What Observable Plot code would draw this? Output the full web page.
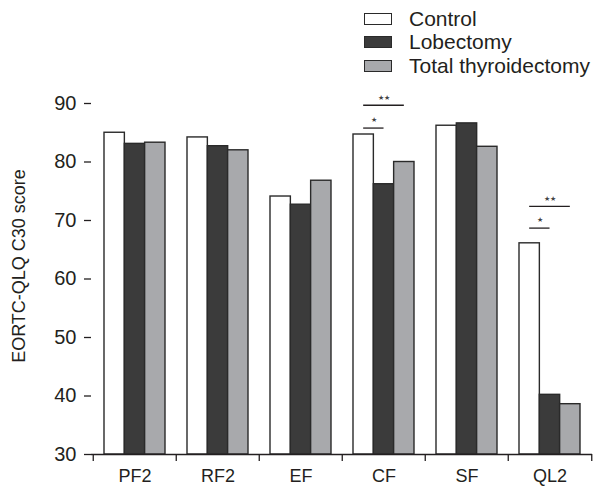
<!DOCTYPE html>
<html>
<head>
<meta charset="utf-8">
<script src="https://cdn.jsdelivr.net/npm/d3@7"></script>
<script src="https://cdn.jsdelivr.net/npm/@observablehq/plot@0.6"></script>
<style>
  html, body { margin: 0; padding: 0; background: #fff; }
  body { width: 596px; height: 490px; overflow: hidden; font-family: "Liberation Sans", Arial, sans-serif; color: #231f20; }
  #legend { position: relative; height: 75px; }
  .item { position: absolute; left: 364px; display: flex; align-items: center; font-size: 21px; line-height: 24px; }
  .sw { width: 26px; height: 10px; border: 1.3px solid #2a2a2a; margin-right: 17px; }
</style>
</head>
<body>
<div id="legend"></div>
<div id="chart"></div>
<script>
const categories = ["PF2", "RF2", "EF", "CF", "SF", "QL2"];
const groups = ["Control", "Lobectomy", "Total thyroidectomy"];
const control = [85.0, 84.2, 74.1, 84.7, 86.2, 66.1];
const lobectomy = [83.1, 82.7, 72.7, 76.2, 86.6, 40.2];
const totalThyroidectomy = [83.3, 82.0, 76.8, 80.0, 82.6, 38.6];
const colors = ["#ffffff", "#3b3b3b", "#a8a9ac"];
const yTicks = [30, 40, 50, 60, 70, 80, 90];
const yLabel = "EORTC-QLQ C30 score";
// significance brackets: category, compared group, line level, label
const sigCategory = ["CF", "CF", "QL2", "QL2"];
const sigGroup = ["Lobectomy", "Total thyroidectomy", "Lobectomy", "Total thyroidectomy"];
const sigLevel = [85.8, 89.7, 68.7, 72.4];
const sigLabel = ["★", "★★", "★", "★★"];

const seriesValues = [control, lobectomy, totalThyroidectomy];
const data = [];
groups.forEach((g, j) => categories.forEach((c, i) => data.push({category: c, group: g, value: seriesValues[j][i]})));
const sig = sigCategory.map((c, i) => ({category: c, group: sigGroup[i], level: sigLevel[i], label: sigLabel[i]}));

// legend
const legend = document.getElementById("legend");
const rowTops = [7, 29.5, 54];
groups.forEach((g, j) => {
  const d = document.createElement("div");
  d.className = "item";
  d.style.top = rowTops[j] + "px";
  d.innerHTML = `<span class="sw" style="background:${colors[j]}"></span><span>${g}</span>`;
  legend.appendChild(d);
});

const width = 596, height = 415;
const marginLeft = 91, marginRight = 4, marginTop = 28, marginBottom = 36;
const padIn = 0.27;
const step = (width - marginLeft - marginRight) / categories.length;
const bw = step * (1 - padIn);
const third = bw / 3;
const stroke = "#2a2a2a";

const barMarks = groups.map((g, j) =>
  Plot.barY(data.filter(d => d.group === g), {
    x: "category", y1: 30, y2: "value",
    fill: colors[j], stroke, strokeWidth: 1.4,
    insetLeft: j * third, insetRight: (2 - j) * third
  })
);

const lineMarks = sig.map(s => {
  const j = groups.indexOf(s.group);
  return Plot.tickY([s], {x: "category", y: "level", stroke: "#231f20", strokeWidth: 1.3,
    insetLeft: third / 2, insetRight: bw - (j + 0.5) * third});
});
const starMarks = sig.map(s => {
  const j = groups.indexOf(s.group);
  const center = (third / 2 + (j + 0.5) * third) / 2;
  return Plot.text([s], {x: "category", y: "level", text: "label", fontSize: 7,
    fill: "#444", dx: center - bw / 2, dy: -8});
});

const chart = Plot.plot({
  width, height, marginLeft, marginRight, marginTop, marginBottom,
  style: {fontFamily: "Liberation Sans, Arial, sans-serif", fontSize: "18px", color: "#231f20", background: "#fff"},
  x: {type: "band", domain: categories, paddingInner: padIn, paddingOuter: padIn / 2},
  y: {domain: [30, 90]},
  marks: [
    ...barMarks,
    Plot.ruleY([30], {stroke: "#231f20", strokeWidth: 1.3}),
    Plot.axisY({ticks: yTicks, tickSize: 7, tickPadding: 8, fontSize: 20, stroke: "#231f20", strokeWidth: 1.3, label: null}),
    Plot.axisX({tickSize: 0, tickPadding: 15, fontSize: 18, label: null}),
    Plot.axisX({tickSize: 7, tickFormat: () => "", dx: -step / 2, label: null, strokeWidth: 1.3}),
    Plot.axisX({ticks: [categories[categories.length - 1]], tickSize: 7, tickFormat: () => "", dx: step / 2, label: null, strokeWidth: 1.3}),
    Plot.text([yLabel], {frameAnchor: "left", textAnchor: "middle", rotate: -90, dx: -72, dy: -13, fontSize: 18}),
    ...lineMarks,
    ...starMarks
  ]
});
document.getElementById("chart").appendChild(chart);
</script>
</body>
</html>
